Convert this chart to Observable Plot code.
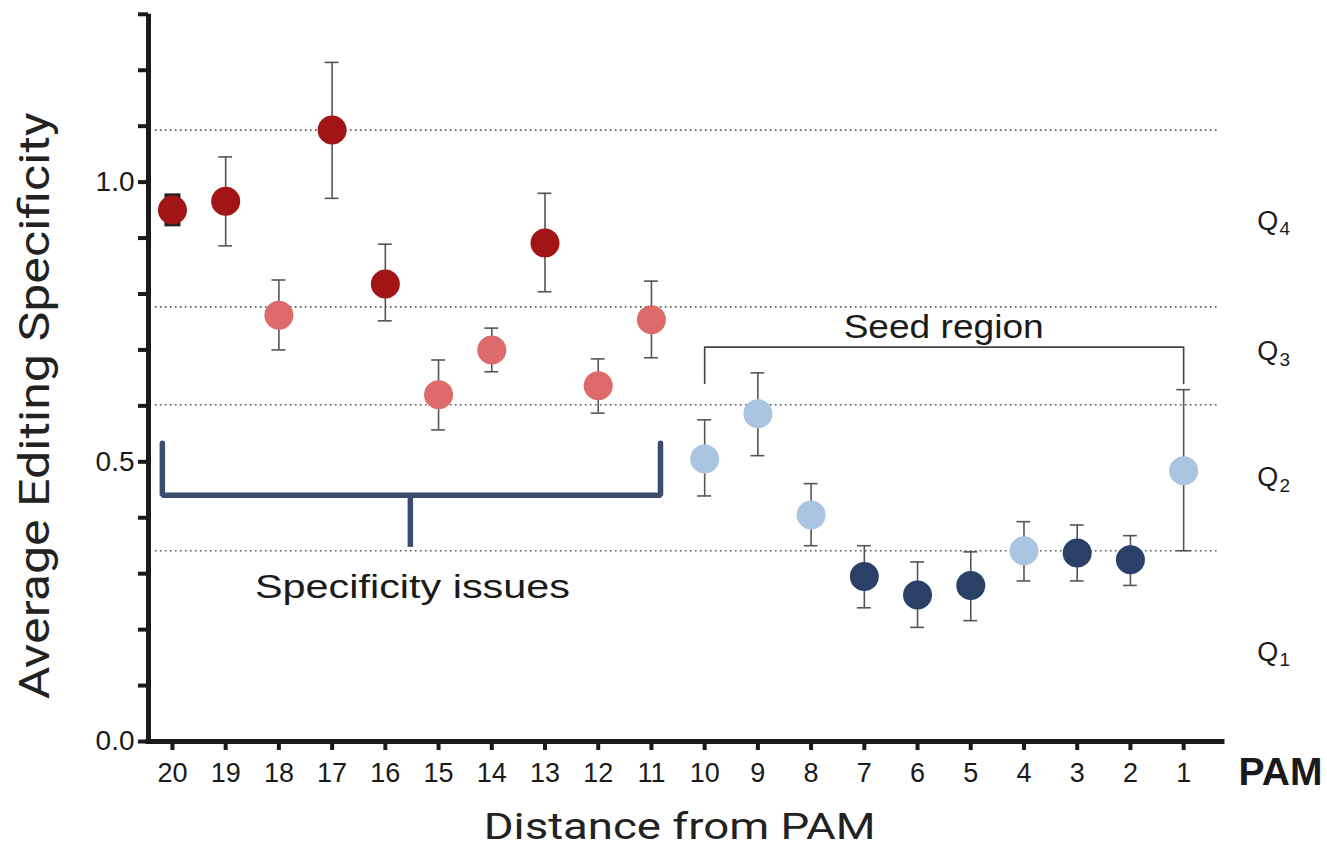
<!DOCTYPE html>
<html><head><meta charset="utf-8">
<script src="https://cdn.jsdelivr.net/npm/d3@7"></script>
<script src="https://cdn.jsdelivr.net/npm/@observablehq/plot@0.6"></script>
<style>body{margin:0;background:#fff} svg{display:block}</style>
</head><body><div id="chart"></div>
<script>
// ---- data ----
const positions = [20,19,18,17,16,15,14,13,12,11,10,9,8,7,6,5,4,3,2,1];
const means   = [0.950,0.966,0.762,1.093,0.818,0.620,0.700,0.891,0.636,0.754,0.505,0.586,0.405,0.295,0.262,0.279,0.341,0.337,0.325,0.484];
const errLow  = [0.920,0.886,0.700,0.971,0.752,0.557,0.661,0.804,0.587,0.686,0.439,0.511,0.350,0.239,0.204,0.216,0.287,0.287,0.279,0.341];
const errHigh = [0.979,1.045,0.825,1.214,0.889,0.682,0.739,0.980,0.684,0.823,0.575,0.659,0.461,0.350,0.321,0.339,0.393,0.387,0.368,0.629];
const groups  = ["dark red","dark red","light red","dark red","dark red","light red","light red","dark red","light red","light red",
                 "light blue","light blue","light blue","navy","navy","navy","light blue","navy","navy","light blue"];
const groupNames  = ["dark red","light red","light blue","navy"];
const groupColors = ["#a21516","#de6b6b","#aac5e2","#2a4066"];
const yTicks = d3.range(0, 14).map(i => i / 10);
const yTickLabels = [0, 0.5, 1.0];
const quartileCutoffs = [1.093, 0.777, 0.602, 0.341];
const quartileNames = ["4","3","2","1"];
const quartileLabelY = [0.930, 0.697, 0.472, 0.160];
const seedBracket = {from: 10, to: 1, top: 0.705, leftBottom: 0.640, rightBottom: 0.640};
const issuesBracket = {from: 20.19, to: 10.83, level: 0.440, top: 0.533, mid: 15.53, midBottom: 0.347};
const titles = {y: "Average Editing Specificity", x: "Distance from PAM", seed: "Seed region", issues: "Specificity issues"};

const table = positions.map((p, i) => ({pos: p, mean: means[i], lo: errLow[i], hi: errHigh[i], group: groups[i]}));

const xDomain = [20.45, 0.27];
const yDomain = [0, 1.305];
const capHalf = 0.13;
const ink = "#1a1a1a";
const sans = "Liberation Sans, Arial, sans-serif";

const plot = Plot.plot({
  width: 1327, height: 848,
  marginLeft: 148, marginRight: 105, marginTop: 11, marginBottom: 107,
  style: {fontFamily: sans, color: ink, background: "#fff", overflow: "visible"},
  x: {domain: xDomain, range: [148, 1222]},
  y: {domain: yDomain},
  color: {domain: groupNames, range: groupColors},
  marks: [
    Plot.ruleY(quartileCutoffs, {x1: 20.32, x2: 0.34, stroke: "#555", strokeWidth: 1.6, strokeDasharray: "1.6,3.4"}),
    Plot.axisY({ticks: yTicks, tickSize: 10, tickPadding: 4, strokeWidth: 4, fontSize: 28, fill: ink,
      tickFormat: d => yTickLabels.some(v => Math.abs(v - d) < 1e-9) ? d3.format(".1f")(d) : "", label: null}),
    Plot.axisX({ticks: positions, tickSize: 9, tickPadding: 12, strokeWidth: 4, fontSize: 27, fill: ink,
      tickFormat: d => String(d), label: null}),
    Plot.ruleX([xDomain[0]], {y1: 0, y2: 1.3, stroke: ink, strokeWidth: 5}),
    Plot.ruleY([0], {x1: xDomain[0], x2: xDomain[1], stroke: ink, strokeWidth: 5, strokeLinecap: "square"}),
    Plot.line([[seedBracket.from, seedBracket.leftBottom],[seedBracket.from, seedBracket.top],[seedBracket.to, seedBracket.top],[seedBracket.to, seedBracket.rightBottom]],
      {x: d => d[0], y: d => d[1], stroke: "#444", strokeWidth: 1.6}),
    Plot.text([titles.seed], {x: 5.51, y: 0.740, fontSize: 34, fill: ink, fontFamily: sans}),
    Plot.line([[issuesBracket.from, issuesBracket.top],[issuesBracket.from, issuesBracket.level],[issuesBracket.to, issuesBracket.level],[issuesBracket.to, issuesBracket.top]],
      {x: d => d[0], y: d => d[1], stroke: "#3a4d6e", strokeWidth: 5.5, strokeLinejoin: "miter"}),
    Plot.ruleX([issuesBracket.mid], {y1: issuesBracket.level, y2: issuesBracket.midBottom, stroke: "#3a4d6e", strokeWidth: 5.5}),
    Plot.text([titles.issues], {x: 15.49, y: 0.275, fontSize: 33, fill: ink, fontFamily: sans}),
    Plot.ruleX(table.filter(d => d.pos !== 20), {x: "pos", y1: "lo", y2: "hi", stroke: "#555", strokeWidth: 1.6}),
    Plot.ruleY(table.filter(d => d.pos !== 20), {y: "lo", x1: d => d.pos + capHalf, x2: d => d.pos - capHalf, stroke: "#555", strokeWidth: 1.6}),
    Plot.ruleY(table.filter(d => d.pos !== 20), {y: "hi", x1: d => d.pos + capHalf, x2: d => d.pos - capHalf, stroke: "#555", strokeWidth: 1.6}),
    Plot.ruleX(table.filter(d => d.pos === 20), {x: "pos", y1: "lo", y2: "hi", stroke: "#222", strokeWidth: 16}),
    Plot.dot(table, {x: "pos", y: "mean", r: 14.5, fill: "group", stroke: "none"}),
    Plot.text(quartileLabelY, {x: -0.58, y: d => d, text: () => "Q", fontSize: 27, fill: ink, textAnchor: "middle", fontFamily: sans}),
    Plot.text(quartileLabelY, {x: -0.58, y: d => d, text: (d, i) => quartileNames[i], dx: 17, dy: 8, fontSize: 19, fill: ink, fontFamily: sans}),
    Plot.text(["PAM"], {x: -0.82, y: 0, dy: 31, fontSize: 39, fontWeight: "bold", fill: ink, fontFamily: sans}),
    Plot.text([titles.y], {x: 22.57, y: 0.600, rotate: -90, fontSize: 42, fill: "#222", fontFamily: "Roboto, sans-serif"}),
    Plot.text([titles.x], {x: 10.47, y: -0.153, fontSize: 37, fill: "#222", fontFamily: "Roboto, sans-serif"})
  ]
});
// stretch the annotation texts to the widths they have in the reference
const stretch = {[titles.y]: 587, [titles.x]: 392, [titles.seed]: 200, [titles.issues]: 315};
d3.select(plot).selectAll("text").each(function() {
  const t = this.textContent;
  if (stretch[t]) { this.setAttribute("textLength", stretch[t]); this.setAttribute("lengthAdjust", "spacingAndGlyphs"); }
});
document.getElementById("chart").appendChild(plot);
</script>
</body></html>
